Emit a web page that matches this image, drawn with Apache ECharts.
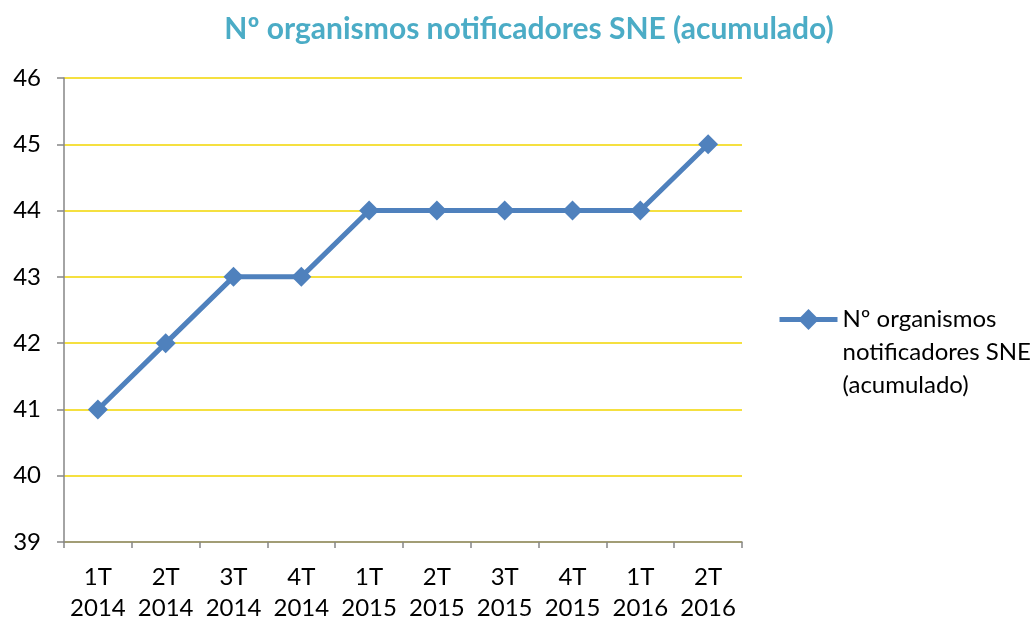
<!DOCTYPE html>
<html>
<head>
<meta charset="utf-8">
<script src="https://cdn.jsdelivr.net/npm/echarts@6/dist/echarts.min.js"></script>
<style>
  html, body { margin: 0; padding: 0; background: #fff; }
  #chart { width: 1034px; height: 624px; }
</style>
</head>
<body>
<div id="chart"></div>
<script>
var categories = ['1T\n2014', '2T\n2014', '3T\n2014', '4T\n2014', '1T\n2015', '2T\n2015', '3T\n2015', '4T\n2015', '1T\n2016', '2T\n2016'];
var values = [41, 42, 43, 43, 44, 44, 44, 44, 44, 45];
var seriesName = 'Nº organismos notificadores SNE (acumulado)';
// two blank lines first so the marker sits beside the first visible line
var legendText = '\n\nNº organismos\nnotificadores SNE\n(acumulado)';

var chart = echarts.init(document.getElementById('chart'));
chart.setOption({
  backgroundColor: '#fff',
  animation: false,
  textStyle: { fontFamily: 'Lato' },
  title: {
    text: seriesName,
    left: 524,
    top: 9,
    textAlign: 'center',
    textStyle: { color: '#4BACC6', fontSize: 30, fontWeight: 'bold', fontFamily: 'Lato' }
  },
  legend: {
    orient: 'vertical',
    left: 772,
    top: 232,
    itemWidth: 58,
    itemHeight: 26,
    data: [{ name: seriesName }],
    formatter: function () { return legendText; },
    lineStyle: { width: 5 },
    textStyle: { fontSize: 24, color: '#000', lineHeight: 33 }
  },
  grid: { left: 64, right: 292, top: 78, bottom: 79 },
  xAxis: {
    type: 'category',
    data: categories,
    boundaryGap: true,
    axisLine: { lineStyle: { color: '#868686', width: 1.5 } },
    axisTick: { show: true, length: 6, lineStyle: { color: '#868686', width: 1.5 } },
    axisLabel: { color: '#000', fontSize: 24, lineHeight: 31, margin: 20, interval: 0 }
  },
  yAxis: {
    type: 'value',
    min: 39,
    max: 46,
    interval: 1,
    axisLine: { show: true, lineStyle: { color: '#868686', width: 1.5 } },
    axisTick: { show: true, length: 7, lineStyle: { color: '#868686', width: 1.5 } },
    axisLabel: { color: '#000', fontSize: 24, margin: 23 },
    splitLine: { lineStyle: { color: '#F2D600', width: 1.5 } }
  },
  series: [{
    name: seriesName,
    type: 'line',
    data: values,
    symbol: 'diamond',
    symbolSize: 20,
    lineStyle: { color: '#4F81BD', width: 5 },
    itemStyle: { color: '#4F81BD' }
  }]
});
</script>
</body>
</html>
